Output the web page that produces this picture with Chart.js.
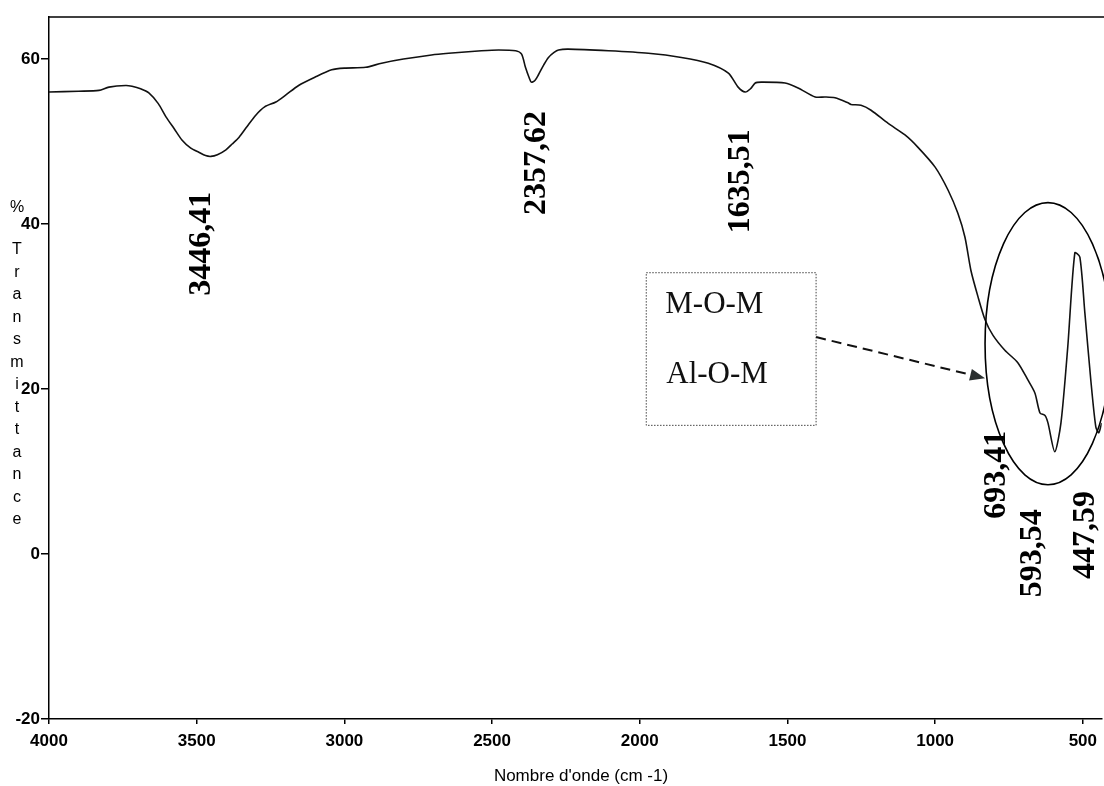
<!DOCTYPE html>
<html>
<head>
<meta charset="utf-8">
<title>Spectre IR</title>
<script src="https://cdn.jsdelivr.net/npm/chart.js"></script>
<style>
  html, body { margin: 0; padding: 0; background: #fff; }
  #wrap { width: 1104px; height: 786px; }
</style>
</head>
<body>
<div id="wrap"><canvas id="irChart" width="1104" height="786"></canvas></div>
<script>
// wavenumber (cm-1)
const wavenumbers = [
  4000, 3900, 3831, 3797, 3740, 3719, 3690, 3662, 3630, 3604, 3575, 3550,
  3520, 3493, 3470, 3452, 3430, 3401, 3380, 3357, 3330, 3300, 3270, 3232,
  3200, 3155, 3100, 3043, 3000, 2928, 2874, 2800, 2705, 2647, 2536, 2478,
  2420, 2400, 2387, 2375, 2367, 2355, 2343, 2325, 2309, 2290, 2275, 2242,
  2106, 1971, 1859, 1768, 1700, 1667, 1643, 1625, 1609, 1589, 1508, 1464,
  1406, 1372, 1339, 1295, 1285, 1251, 1217, 1159, 1102, 1058, 1000, 956,
  923, 899, 879, 855, 831, 804, 764, 720, 686, 662, 645, 628,
  618, 595, 574, 551, 527, 510, 493, 473, 456, 446, 436
];
// % transmittance
const transmittance = [
  56.0, 56.1, 56.2, 56.6, 56.8, 56.7, 56.4, 55.9, 54.6, 53.0, 51.5, 50.2,
  49.2, 48.7, 48.3, 48.2, 48.4, 49.0, 49.7, 50.5, 51.8, 53.2, 54.2, 54.8,
  55.6, 56.8, 57.8, 58.7, 58.9, 59.0, 59.5, 60.0, 60.5, 60.7, 61.0, 61.1,
  61.0, 60.6, 59.0, 57.8, 57.2, 57.4, 58.1, 59.3, 60.2, 60.8, 61.1, 61.2,
  61.0, 60.7, 60.2, 59.5, 58.3, 56.6, 56.0, 56.4, 57.1, 57.2, 57.1, 56.5,
  55.4, 55.4, 55.3, 54.7, 54.5, 54.4, 53.8, 52.2, 50.8, 49.3, 46.9, 44.1,
  41.3, 38.4, 34.4, 31.2, 28.4, 26.5, 24.7, 23.2, 21.1, 19.5, 17.1, 16.8,
  15.9, 12.4, 15.9, 25.1, 36.5, 36.0, 29.2, 21.1, 15.4, 14.7, 15.9
];

const xTicks = [4000, 3500, 3000, 2500, 2000, 1500, 1000, 500];
const yTicks = [-20, 0, 20, 40, 60];

// peak labels: text, wavenumber and %T of the label centre
const peakTexts = ['3446,41', '2357,62', '1635,51', '693,41', '593,54', '447,59'];
const peakX = [3483, 2350, 1657, 790, 669, 490];
const peakY = [37.6, 47.4, 45.2, 9.6, 0.1, 2.3];

const boxLines = ['M-O-M', 'Al-O-M'];

const serif = '"Liberation Serif", "Times New Roman", serif';
const sans = '"Liberation Sans", Arial, sans-serif';

// draws frame top, axis titles and the hand-made annotations
const decorations = {
  id: 'decorations',
  afterDraw(chart) {
    const ctx = chart.ctx;
    const area = chart.chartArea;
    const xs = chart.scales.x;
    const ys = chart.scales.y;
    const px = v => xs.getPixelForValue(v);
    const py = v => ys.getPixelForValue(v);

    ctx.save();
    ctx.strokeStyle = '#000';
    ctx.fillStyle = '#000';

    // top frame line, runs to the page edge
    ctx.lineWidth = 1.5;
    ctx.beginPath();
    ctx.moveTo(area.left, area.top);
    ctx.lineTo(chart.width, area.top);
    ctx.stroke();

    // y title, one letter per line
    ctx.font = '16px ' + sans;
    ctx.textAlign = 'center';
    ctx.textBaseline = 'middle';
    ctx.fillText('%', 17, 208);
    const word = 'Transmittance';
    for (let i = 0; i < word.length; i++) {
      ctx.fillText(word[i], 17, 250 + i * 22.5);
    }

    // x title
    ctx.font = '17px ' + sans;
    ctx.fillText("Nombre d'onde (cm -1)", 581, 776);

    // rotated peak labels
    ctx.font = 'bold 32px ' + serif;
    peakTexts.forEach((t, i) => {
      ctx.save();
      ctx.translate(px(peakX[i]), py(peakY[i]));
      ctx.rotate(-Math.PI / 2);
      ctx.textAlign = 'center';
      ctx.textBaseline = 'middle';
      ctx.fillText(t, 0, 0);
      ctx.restore();
    });

    // dotted box
    const bx0 = px(1978), bx1 = px(1403), by0 = py(34.1), by1 = py(15.6);
    ctx.lineWidth = 1;
    ctx.strokeStyle = '#444';
    ctx.setLineDash([1.5, 1.5]);
    ctx.strokeRect(bx0, by0, bx1 - bx0, by1 - by0);
    ctx.setLineDash([]);
    ctx.font = '31px ' + serif;
    ctx.textAlign = 'left';
    ctx.textBaseline = 'alphabetic';
    ctx.fillStyle = '#111';
    ctx.fillText(boxLines[0], bx0 + 19, py(29.2));
    ctx.fillText(boxLines[1], bx0 + 20, py(20.7));

    // dashed arrow
    const ax0 = px(1403), ay0 = py(26.3), ax1 = px(831), ay1 = py(21.3);
    const ang = Math.atan2(ay1 - ay0, ax1 - ax0);
    const headLen = 15;
    ctx.strokeStyle = '#111';
    ctx.lineWidth = 2;
    ctx.setLineDash([10, 6]);
    ctx.beginPath();
    ctx.moveTo(ax0, ay0);
    ctx.lineTo(ax1 - headLen * Math.cos(ang), ay1 - headLen * Math.sin(ang));
    ctx.stroke();
    ctx.setLineDash([]);
    ctx.fillStyle = '#2a2f2f';
    ctx.beginPath();
    ctx.moveTo(ax1, ay1);
    ctx.lineTo(ax1 - headLen * Math.cos(ang) + 6 * Math.sin(ang),
               ay1 - headLen * Math.sin(ang) - 6 * Math.cos(ang));
    ctx.lineTo(ax1 - headLen * Math.cos(ang) - 6 * Math.sin(ang),
               ay1 - headLen * Math.sin(ang) + 6 * Math.cos(ang));
    ctx.closePath();
    ctx.fill();

    // ellipse round the M-O bands
    const ecx = px(618), ecy = py(25.5);
    const erx = px(618) - px(831), ery = py(8.4) - py(25.5);
    ctx.strokeStyle = '#000';
    ctx.lineWidth = 1.6;
    ctx.beginPath();
    ctx.ellipse(ecx, ecy, erx, ery, 0, 0, Math.PI * 2);
    ctx.stroke();

    ctx.restore();
  }
};

const ctx = document.getElementById('irChart').getContext('2d');
new Chart(ctx, {
  type: 'line',
  data: {
    datasets: [{
      data: wavenumbers.map((w, i) => ({ x: w, y: transmittance[i] })),
      borderColor: '#111',
      borderWidth: 1.6,
      pointRadius: 0,
      tension: 0.25,
      fill: false
    }]
  },
  options: {
    responsive: false,
    animation: false,
    devicePixelRatio: 1,
    layout: { padding: { top: 17, left: 0, right: 0, bottom: 0 } },
    plugins: {
      legend: { display: false },
      tooltip: { enabled: false }
    },
    scales: {
      x: {
        type: 'linear',
        reverse: true,
        min: 436,
        max: 4000,
        afterBuildTicks: s => { s.ticks = xTicks.map(v => ({ value: v })); },
        afterFit: s => { s.height = 67; },
        ticks: {
          color: '#000',
          font: { family: sans, size: 17, weight: 'bold' },
          padding: 7,
          maxRotation: 0,
          autoSkip: false,
          callback: v => String(v)
        },
        grid: { drawOnChartArea: false, tickLength: 5, color: '#000', lineWidth: 1.5 },
        border: { color: '#000', width: 1.5 }
      },
      y: {
        min: -20,
        max: 65.1,
        afterBuildTicks: s => { s.ticks = yTicks.map(v => ({ value: v })); },
        afterFit: s => { s.width = 49; },
        ticks: {
          color: '#000',
          font: { family: sans, size: 17, weight: 'bold' },
          padding: 1,
          callback: v => String(v)
        },
        grid: { drawOnChartArea: false, tickLength: 8, color: '#000', lineWidth: 1.5 },
        border: { color: '#000', width: 1.5 }
      }
    }
  },
  plugins: [decorations]
});
</script>
</body>
</html>
